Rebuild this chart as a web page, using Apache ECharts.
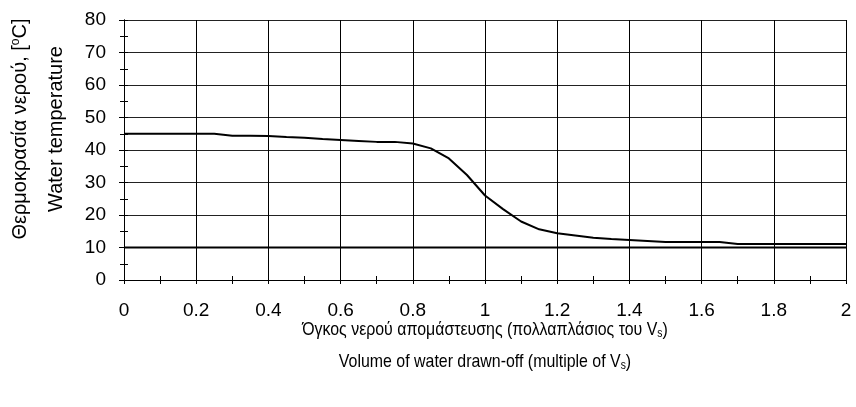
<!DOCTYPE html>
<html>
<head>
<meta charset="utf-8">
<script src="https://cdn.jsdelivr.net/npm/echarts@6/dist/echarts.min.js"></script>
<style>
  html, body { margin: 0; padding: 0; background: #fff; }
  #chart { width: 856px; height: 407px; }
</style>
</head>
<body>
<div id="chart"></div>
<script>
// Drawn-off volume (multiples of Vs) and outlet water temperature (°C)
const volume = [0, 0.05, 0.1, 0.15, 0.2, 0.25, 0.3, 0.35, 0.4, 0.45, 0.5, 0.55, 0.6, 0.65, 0.7, 0.75, 0.8, 0.85, 0.9, 0.95,
                1.0, 1.05, 1.1, 1.15, 1.2, 1.25, 1.3, 1.35, 1.4, 1.45, 1.5, 1.55, 1.6, 1.65, 1.7, 1.75, 1.8, 1.85, 1.9, 1.95, 2.0];
const temperature = [45, 45, 45, 45, 45, 45, 44.4, 44.4, 44.3, 44.0, 43.8, 43.4, 43.1, 42.8, 42.5, 42.5, 42.0, 40.5, 37.4, 32.3,
                     26.0, 21.8, 18.0, 15.6, 14.4, 13.7, 13.0, 12.6, 12.3, 12.0, 11.7, 11.7, 11.7, 11.7, 11.1, 11.1, 11.1, 11.1, 11.1, 11.1, 11.1];
// Cold water supply temperature
const coldWaterX = [0, 2];
const coldWaterT = [10, 10];

const xTicks = { min: 0, max: 2, step: 0.2 };
const yTicks = { min: 0, max: 80, step: 10 };

const FONT = 'Liberation Sans, Arial, sans-serif';

const chart = echarts.init(document.getElementById('chart'), null, { renderer: 'canvas' });

const nX = Math.round((xTicks.max - xTicks.min) / xTicks.step) + 1;
const nY = Math.round((yTicks.max - yTicks.min) / yTicks.step) + 1;
const xGridColors = Array.from({ length: nX }, (_, i) => i === nX - 1 ? '#999' : '#000');
const yGridColors = Array.from({ length: nY }, (_, i) => i === nY - 1 ? '#999' : '#222');

const baseX = {
  type: 'value', min: xTicks.min, max: xTicks.max, interval: xTicks.step,
  position: 'bottom',
  axisLine: { show: true, onZero: false, lineStyle: { color: '#000', width: 1 } },
  minorTick: { show: true, splitNumber: 2, length: 4, lineStyle: { color: '#000' } }
};
const baseY = {
  type: 'value', min: yTicks.min, max: yTicks.max, interval: yTicks.step,
  position: 'left',
  axisLine: { show: true, onZero: false, lineStyle: { color: '#000', width: 1 } },
  minorTick: { show: true, splitNumber: 2, length: 4, lineStyle: { color: '#000' } }
};

// Axis titles: slightly condensed text
const titleText = (x, y, text, size, extra) => Object.assign({
  type: 'text', silent: true, x: x, y: y,
  style: {
    text: text, align: 'center', verticalAlign: 'middle',
    font: size + 'px ' + FONT, fill: '#000',
    rich: {
      sub: { fontSize: 12, fontFamily: FONT, verticalAlign: 'bottom', fill: '#000' },
      sup: { fontSize: 12, fontFamily: FONT, verticalAlign: 'top', fill: '#000' }
    }
  }
}, extra || {});

chart.setOption({
  animation: false,
  backgroundColor: '#fff',
  grid: { left: 124, right: 10, top: 20, bottom: 127, containLabel: false },
  xAxis: [
    Object.assign({}, baseX, {
      axisTick: { show: true, length: 4, inside: false, lineStyle: { color: '#000' } },
      axisLabel: { show: true, color: '#000', fontSize: 19, fontFamily: FONT, margin: 21,
                   formatter: v => String(+v.toFixed(1)) },
      splitLine: { show: true, showMinLine: false, lineStyle: { color: xGridColors, width: 1 } }
    }),
    Object.assign({}, baseX, {
      axisTick: { show: true, length: 3, inside: true, lineStyle: { color: '#000' } },
      axisLabel: { show: false },
      splitLine: { show: false }
    })
  ],
  yAxis: [
    Object.assign({}, baseY, {
      axisTick: { show: true, length: 5, inside: false, lineStyle: { color: '#000' } },
      axisLabel: { show: true, color: '#000', fontSize: 19, fontFamily: FONT, margin: 18 },
      splitLine: { show: true, showMinLine: false, lineStyle: { color: yGridColors, width: 1 } }
    }),
    Object.assign({}, baseY, {
      axisTick: { show: true, length: 4, inside: true, lineStyle: { color: '#000' } },
      axisLabel: { show: false },
      splitLine: { show: false }
    })
  ],
  series: [
    {
      type: 'line', xAxisIndex: 0, yAxisIndex: 0,
      data: coldWaterX.map((x, i) => [x, coldWaterT[i]]),
      showSymbol: false, symbol: 'none',
      lineStyle: { color: '#000', width: 2 }, z: 3
    },
    {
      type: 'line', xAxisIndex: 0, yAxisIndex: 0,
      data: volume.map((x, i) => [x, temperature[i]]),
      showSymbol: false, symbol: 'none', smooth: false,
      lineStyle: { color: '#000', width: 2 }, z: 4
    }
  ],
  graphic: [
    titleText(20, 129, 'Θερμοκρασία νερού, [{sup|o}C]', 20, { rotation: Math.PI / 2 }),
    titleText(56, 129, 'Water temperature', 20, { rotation: Math.PI / 2 }),
    titleText(485, 330, 'Όγκος νερού απομάστευσης (πολλαπλάσιος του V{sub|s})', 18.5, { scaleX: 0.86 }),
    titleText(485, 362, 'Volume of water drawn-off (multiple of V{sub|s})', 18.5, { scaleX: 0.86 })
  ]
});
</script>
</body>
</html>
